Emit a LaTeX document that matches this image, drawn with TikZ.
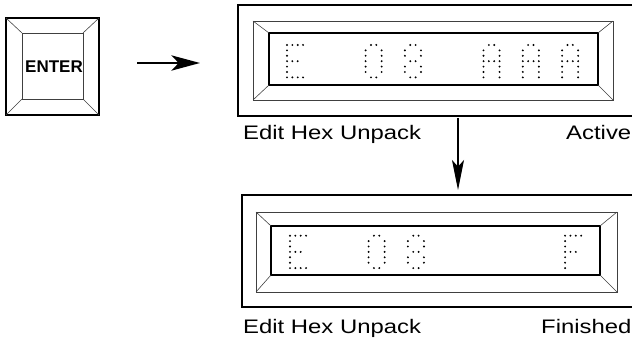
\documentclass[tikz,border=0pt]{standalone}
\usepackage{fontspec}
\usetikzlibrary{arrows.meta}
\newfontfamily\lblfont[FakeStretch=1.22]{Liberation Sans}
\newfontfamily\keyfont{Liberation Sans}
% dot patterns (column/row) of a 4x7 matrix
\def\chE{1/1,2/1,3/1,4/1,1/2,1/3,1/4,2/4,3/4,1/5,1/6,1/7,2/7,3/7,4/7}
\def\chZ{2/1,3/1,1/2,4/2,1/3,4/3,1/4,4/4,1/5,4/5,1/6,4/6,2/7,3/7}
\def\chEi{2/1,3/1,1/2,4/2,1/3,4/3,2/4,3/4,1/5,4/5,1/6,4/6,2/7,3/7}
\def\chA{2/1,3/1,1/2,4/2,1/3,4/3,1/4,2/4,3/4,4/4,1/5,4/5,1/6,4/6,1/7,4/7}
\def\chF{1/1,2/1,3/1,4/1,1/2,1/3,1/4,2/4,3/4,1/5,1/6,1/7}
\newcommand{\dotchar}[3]{%
  \foreach \c/\r in #3
    \fill (#1+5.35*\c-5.35,#2+5.4*\r-5.4) circle[radius=0.9pt];}
\begin{document}
\begin{tikzpicture}[x=0.03cm,y=-0.03cm,
  frame/.style={line width=1.4pt},
  bevel/.style={line width=0.5pt,black!75},
  window/.style={line width=1pt},
  lbl/.style={font=\lblfont\fontsize{16.7}{20}\selectfont,inner sep=0pt,anchor=base west},
  >={Stealth[length=0.86cm,width=0.46cm,inset=0.22cm]}]
\useasboundingbox (0,0) rectangle (632,343);
\clip (0,0) rectangle (632,343);
% enter key
\draw[frame] (6,18) rectangle (99,115);
\draw[bevel] (22,33) rectangle (83,99);
\draw[bevel] (6,18) -- (22,33) (99,18) -- (83,33) (6,115) -- (22,99) (99,115) -- (83,99);
\node[font=\keyfont\bfseries\fontsize{14.5}{16}\selectfont,inner sep=0pt] (key) at (54,66.5) {ENTER};
% upper display
\draw[frame] (238,5) rectangle (645,116);
\draw[bevel] (253,21) rectangle (613,100);
\draw[window] (269,33) rectangle (598,85);
\draw[bevel] (253,21) -- (269,33) (613,21) -- (598,33) (253,100) -- (269,85) (613,100) -- (598,85);
\dotchar{287}{45}{\chE}
\dotchar{287+39.3*2}{45}{\chZ}
\dotchar{287+39.3*3}{45}{\chEi}
\dotchar{287+39.3*5}{45}{\chA}
\dotchar{287+39.3*6}{45}{\chA}
\dotchar{287+39.3*7}{45}{\chA}
\node[lbl] (editA) at (243,140) {Edit Hex Unpack};
\node[lbl] (active) at (566,140) {Active};
% lower display
\draw[frame] (242,195) rectangle (645,307);
\draw[bevel] (256,212) rectangle (617,292);
\draw[window] (271,226) rectangle (600,275);
\draw[bevel] (256,212) -- (271,226) (617,212) -- (600,226) (256,292) -- (271,275) (617,292) -- (600,275);
\dotchar{290}{235.7}{\chE}
\dotchar{290+39.3*2}{235.7}{\chZ}
\dotchar{290+39.3*3}{235.7}{\chEi}
\dotchar{290+39.3*7}{235.7}{\chF}
\node[lbl] (editB) at (243,334) {Edit Hex Unpack};
\node[lbl] (finished) at (541,334) {Finished};
% arrows
\coordinate (goA) at (137,63);
\coordinate (goB) at (200,63);
\draw[->,line width=1.4pt] (goA) -- (goB);
\coordinate (downA) at (458,118);
\coordinate (downB) at (458,190);
\draw[-{Stealth[length=0.9cm,width=0.36cm,inset=0.2cm]},line width=0.9pt] (downA) -- (downB);
\end{tikzpicture}
\end{document}
